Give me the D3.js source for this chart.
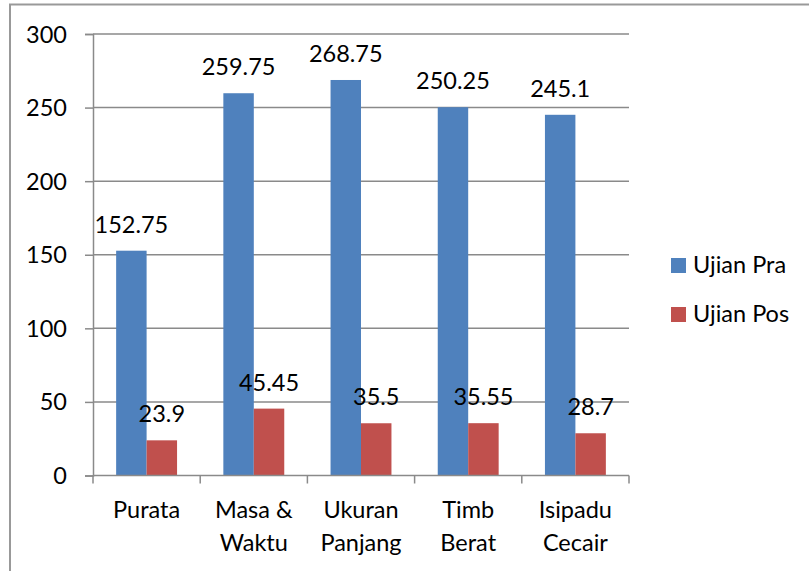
<!DOCTYPE html>
<html><head><meta charset="utf-8">
<script src="https://cdn.jsdelivr.net/npm/d3@7"></script>
<style>body{margin:0;background:#fff}svg{display:block}</style>
</head><body>
<svg id="c" width="809" height="571"></svg>
<script>
const categories = [["Purata"], ["Masa &", "Waktu"], ["Ukuran", "Panjang"], ["Timb", "Berat"], ["Isipadu", "Cecair"]];
const seriesNames = ["Ujian Pra", "Ujian Pos"];
const pra = [152.75, 259.75, 268.75, 250.25, 245.1];
const pos = [23.9, 45.45, 35.5, 35.55, 28.7];
const colors = ["#4f81bd", "#c0504d"];
const yTicks = [0, 50, 100, 150, 200, 250, 300];

const svg = d3.select("#c");
const font = "Lato, 'Open Sans', sans-serif";
const fs = 23.5;
const grey = "#8a8a8a";

svg.append("rect").attr("x", 10).attr("y", 4.5).attr("width", 820).attr("height", 600)
  .attr("fill", "none").attr("stroke", "#999").attr("stroke-width", 2);

const L = 93, R = 629, T = 34, B = 475.5;
const x = d3.scaleBand().domain(d3.range(categories.length)).range([L, R]).paddingInner(0).paddingOuter(0);
const xs = d3.scaleBand().domain([0, 1]).range([0, x.bandwidth()]).paddingOuter(0.76).paddingInner(0);
const y = d3.scaleLinear().domain([0, 300]).range([B, T]);

// gridlines
svg.append("g").selectAll("line").data(yTicks.filter(d => d > 0)).join("line")
  .attr("x1", L).attr("x2", R).attr("y1", d => y(d)).attr("y2", d => y(d))
  .attr("stroke", grey).attr("stroke-width", 1.5);

// y axis
const yAxis = svg.append("g").attr("transform", `translate(${L},0)`)
  .call(d3.axisLeft(y).tickValues(yTicks).tickSize(8).tickPadding(18));
yAxis.select(".domain").attr("stroke", grey).attr("stroke-width", 1.5);
yAxis.selectAll(".tick line").attr("stroke", grey).attr("stroke-width", 1.5);
yAxis.selectAll(".tick text").attr("font-family", font).attr("font-size", fs).attr("fill", "#000").attr("dy", "0.34em");

// bars
const data = [pra, pos];
data.forEach((vals, si) => {
  const g = svg.append("g");
  g.selectAll("rect").data(vals).join("rect")
    .attr("x", (d, i) => x(i) + xs(si))
    .attr("y", d => y(d))
    .attr("width", xs.bandwidth())
    .attr("height", d => B - y(d))
    .attr("fill", colors[si]);
  g.selectAll("text").data(vals).join("text")
    .attr("x", (d, i) => x(i) + xs(si) + xs.bandwidth() / 2)
    .attr("y", d => y(d) - 18)
    .attr("text-anchor", "middle")
    .attr("font-family", font).attr("font-size", fs).attr("fill", "#000")
    .text(d => d);
});

// x axis
const xAxis = svg.append("g").attr("transform", `translate(0,${B})`);
xAxis.append("line").attr("x1", L).attr("x2", R).attr("stroke", grey).attr("stroke-width", 1.5);
xAxis.selectAll(".tk").data(d3.range(categories.length + 1)).join("line")
  .attr("x1", i => L + i * x.step()).attr("x2", i => L + i * x.step())
  .attr("y1", 0).attr("y2", 8).attr("stroke", grey).attr("stroke-width", 1.5);
const labels = svg.append("g").selectAll("text").data(categories).join("text")
  .attr("text-anchor", "middle").attr("font-family", font).attr("font-size", fs).attr("fill", "#000");
labels.each(function(lines, i) {
  d3.select(this).selectAll("tspan").data(lines).join("tspan")
    .attr("x", x(i) + x.bandwidth() / 2)
    .attr("y", (d, j) => 518 + j * 33)
    .text(d => d);
});

// legend
const lg = svg.append("g");
seriesNames.forEach((n, i) => {
  lg.append("rect").attr("x", 671).attr("y", 258 + i * 49).attr("width", 15).attr("height", 15).attr("fill", colors[i]);
  lg.append("text").attr("x", 693).attr("y", 273 + i * 49).attr("font-family", font).attr("font-size", fs)
    .attr("fill", "#000").text(n);
});
</script>
</body></html>
